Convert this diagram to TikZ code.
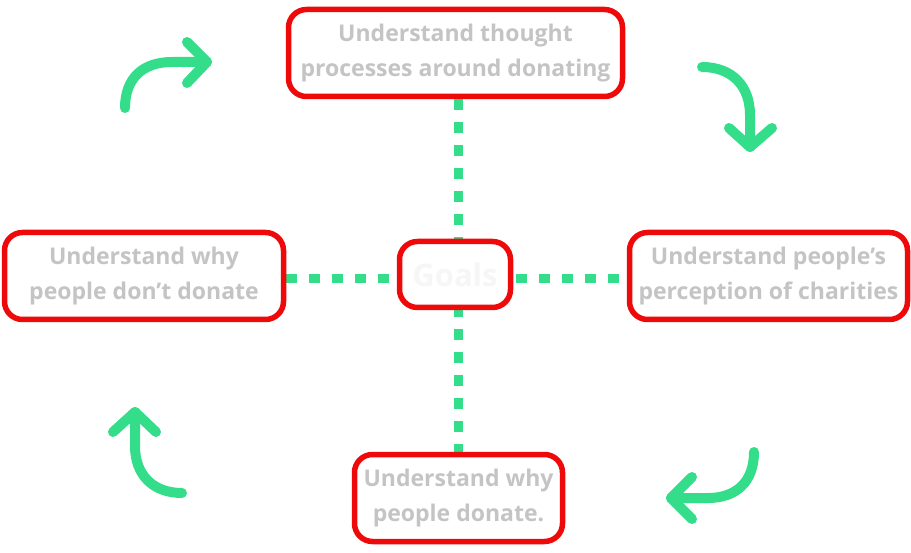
\documentclass[tikz,border=0pt]{standalone}
\usepackage{fontspec}
\setmainfont{Open Sans}
\usetikzlibrary{backgrounds}
\definecolor{boxred}{HTML}{EE0A0A}
\definecolor{txtgrey}{HTML}{C4C4C4}
\definecolor{goalgrey}{HTML}{F6F6F6}
\definecolor{arrgreen}{HTML}{33DD8A}
\tikzset{
  goalbox/.style={draw=boxred, line width=5.5pt, rounded corners=18pt, fill=white,
    align=center, text=txtgrey, font=\fontsize{23}{35}\selectfont\bfseries, inner sep=0pt},
  centerbox/.style={draw=boxred, line width=5.5pt, rounded corners=18pt, fill=white,
    text=goalgrey, font=\fontsize{31}{36}\selectfont\bfseries, inner sep=0pt,
    minimum width=111pt, minimum height=66pt},
  dotline/.style={draw=arrgreen, line width=9pt, dash pattern=on 11pt off 12pt},
  curvearrow/.style={draw=arrgreen, line width=10pt, line cap=round, line join=round},
}
\begin{document}
\begin{tikzpicture}[x=1pt, y=-1pt]
\useasboundingbox (0,0) rectangle (911,553);
\node[goalbox, minimum width=334pt, minimum height=87pt] (top) at (455.5,53)
  {Understand thought\\processes around donating};
\node[goalbox, minimum width=279pt, minimum height=87pt] (left) at (144,276)
  {Understand why\\people don’t donate};
\node[goalbox, minimum width=278pt, minimum height=87pt] (right) at (768.5,276)
  {Understand people’s\\perception of charities};
\node[goalbox, minimum width=208pt, minimum height=87pt] (bottom) at (458.5,498)
  {Understand why\\people donate.};
\node[centerbox] (goals) at (455,274.5) {Goals};
\begin{scope}[on background layer]
  \draw[dotline] (top.south -| bottom.north) -- (bottom.north);
  \draw[dotline] ([yshift=-3pt]left.east) -- ([yshift=-3pt]right.west);
\end{scope}
% cycle arrows
\coordinate (a1s) at (125,108);
\coordinate (a1t) at (207,62);
\draw[curvearrow] (a1s) .. controls (125,78) and (143,62) .. (172,62) -- (a1t);
\draw[curvearrow] (187,42) -- (a1t) -- (187,83);
\coordinate (a2s) at (702,67);
\coordinate (a2t) at (750,147);
\draw[curvearrow] (a2s) .. controls (732,67) and (750,86) .. (750,115) -- (a2t);
\draw[curvearrow] (729,128) -- (a2t) -- (772,128);
\coordinate (a3s) at (754,452);
\coordinate (a3t) at (671,498);
\draw[curvearrow] (a3s) .. controls (754,482) and (736,498) .. (708,498) -- (a3t);
\draw[curvearrow] (692,477) -- (a3t) -- (692,519);
\coordinate (a4s) at (182,493);
\coordinate (a4t) at (135,412);
\draw[curvearrow] (a4s) .. controls (153,493) and (135,475) .. (135,446) -- (a4t);
\draw[curvearrow] (113,432) -- (a4t) -- (156,432);
\end{tikzpicture}
\end{document}
